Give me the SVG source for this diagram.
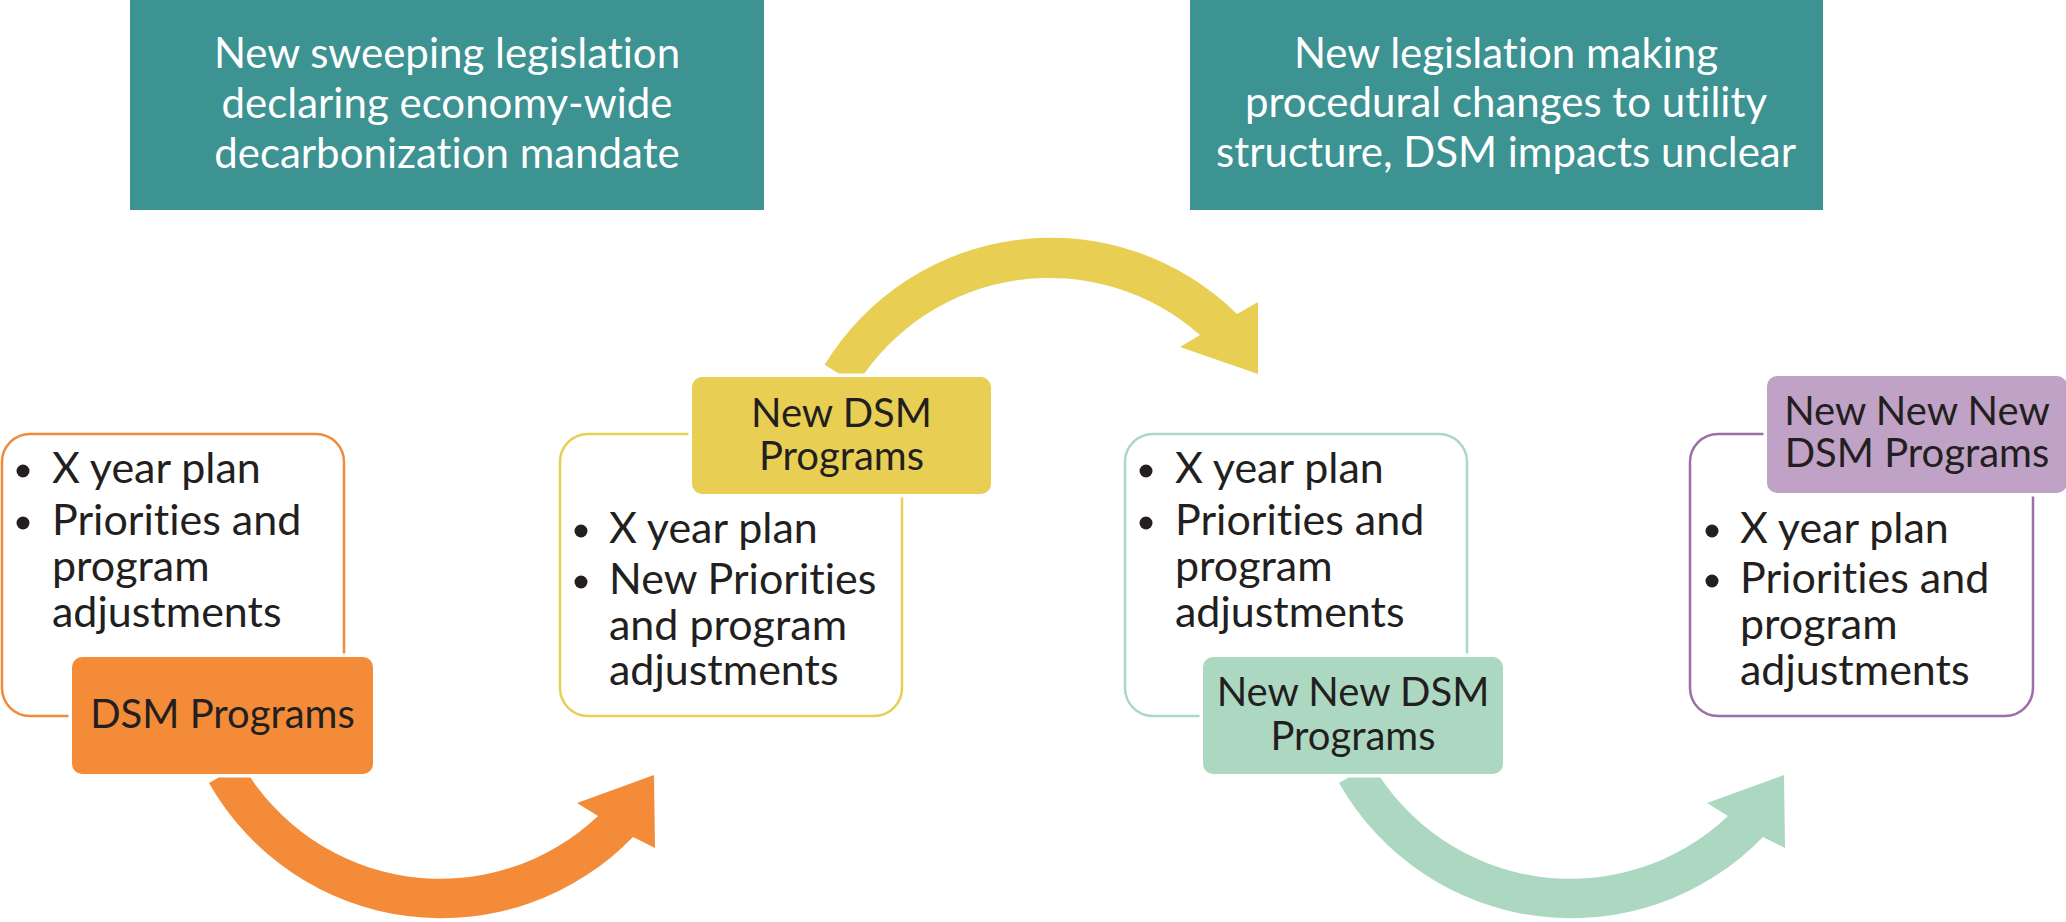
<svg xmlns="http://www.w3.org/2000/svg" width="2066" height="922" viewBox="0 0 2066 922">
<style>
text{font-family:Lato,"Liberation Sans",sans-serif;fill:#231F20;font-variant-ligatures:no-common-ligatures}
.leg{fill:#3D9292}
.legt{fill:#fff;font-size:42px;text-anchor:middle}
.li{font-size:43px}
.tt{font-size:40px;text-anchor:middle}
.ob{fill:#fff;stroke-width:2.5}
.fb{stroke:#fff;stroke-width:7;paint-order:stroke}
.dot{fill:#231F20}
</style>
<defs>
<path id="arc" d="M209,783 A267,267 0 0 0 633,837 L655,848 L654,775 L577,803 L598,816 A229,229 0 0 1 242,764 Z"/>
</defs>
<g id="leg1">
<rect class="leg" x="130" y="0" width="634" height="210"/>
<text class="legt" x="447" y="68">New sweeping legislation</text>
<text class="legt" x="447" y="118">declaring economy-wide</text>
<text class="legt" x="447" y="168">decarbonization mandate</text>
</g>
<g id="leg2">
<rect class="leg" x="1190" y="0" width="633" height="210"/>
<text class="legt" x="1506" y="68">New legislation making</text>
<text class="legt" x="1506" y="117">procedural changes to utility</text>
<text class="legt" x="1506" y="167">structure, DSM impacts unclear</text>
</g>
<g id="connectors">
<use href="#arc" fill="#F38B38"/>
<use href="#arc" fill="#ACD8C2" transform="translate(1130,0)"/>
<path fill="#E8CF53" d="M824.6,364.8 A265,265 0 0 1 1237,314 L1258,302 L1258,374 L1180,347 L1200,335 A227,227 0 0 0 856.9,384.7 Z"/>
</g>
<g id="stage1">
<rect class="ob" x="2" y="434" width="342" height="282" rx="28" stroke="#F28A3A"/>
<circle class="dot" cx="23" cy="471" r="6.5"/>
<text class="li" x="52" y="483">X year plan</text>
<circle class="dot" cx="23" cy="523" r="6.5"/>
<text class="li" x="52" y="535">Priorities and</text>
<text class="li" x="52" y="581">program</text>
<text class="li" x="52" y="627">adjustments</text>
<rect class="fb" x="72" y="657" width="301" height="117" rx="10" fill="#F38B38"/>
<text class="tt" x="222.5" y="728">DSM Programs</text>
</g>
<g id="stage2">
<rect class="ob" x="560" y="434" width="342" height="282" rx="28" stroke="#E8CF53"/>
<circle class="dot" cx="581" cy="531" r="6.5"/>
<text class="li" x="609" y="543">X year plan</text>
<circle class="dot" cx="581" cy="582" r="6.5"/>
<text class="li" x="609" y="594">New Priorities</text>
<text class="li" x="609" y="640">and program</text>
<text class="li" x="609" y="685">adjustments</text>
<rect class="fb" x="692" y="377" width="299" height="117" rx="10" fill="#E8CF53"/>
<text class="tt" x="841.5" y="427">New DSM</text>
<text class="tt" x="841.5" y="470">Programs</text>
</g>
<g id="stage3">
<rect class="ob" x="1125" y="434" width="342" height="282" rx="28" stroke="#ACD8C2"/>
<circle class="dot" cx="1146" cy="471" r="6.5"/>
<text class="li" x="1175" y="483">X year plan</text>
<circle class="dot" cx="1146" cy="523" r="6.5"/>
<text class="li" x="1175" y="535">Priorities and</text>
<text class="li" x="1175" y="581">program</text>
<text class="li" x="1175" y="627">adjustments</text>
<rect class="fb" x="1203" y="657" width="300" height="117" rx="10" fill="#ACD8C2"/>
<text class="tt" x="1353" y="706">New New DSM</text>
<text class="tt" x="1353" y="750">Programs</text>
</g>
<g id="stage4">
<rect class="ob" x="1690" y="434" width="343" height="282" rx="28" stroke="#9C6FA8"/>
<circle class="dot" cx="1712" cy="531" r="6.5"/>
<text class="li" x="1740" y="543">X year plan</text>
<circle class="dot" cx="1712" cy="581" r="6.5"/>
<text class="li" x="1740" y="593">Priorities and</text>
<text class="li" x="1740" y="639">program</text>
<text class="li" x="1740" y="685">adjustments</text>
<rect class="fb" x="1767" y="376" width="300" height="117" rx="10" fill="#BFA2C6"/>
<text class="tt" x="1917" y="425">New New New</text>
<text class="tt" x="1917" y="467">DSM Programs</text>
</g>
</svg>
